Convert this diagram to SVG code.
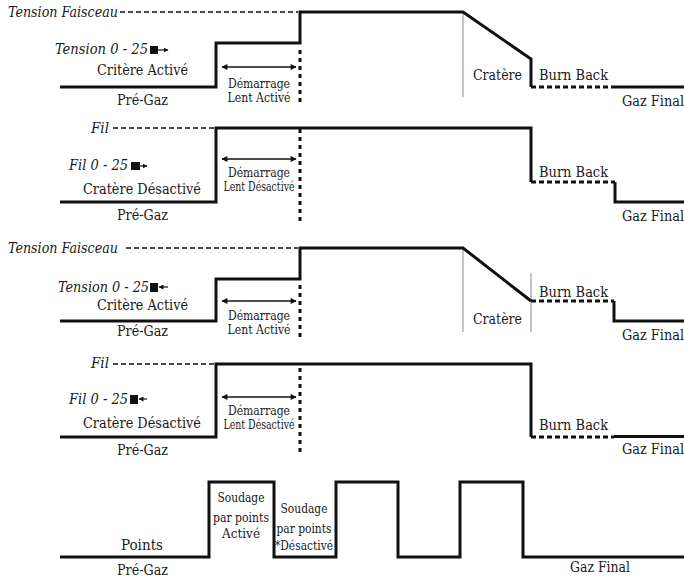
<svg xmlns="http://www.w3.org/2000/svg" width="684" height="578" viewBox="0 0 684 578">
<style>
text{font-family:"DejaVu Serif Condensed","DejaVu Serif","Liberation Serif",serif;fill:#1a1a1a}
.l{font-size:14.5px}
.s{font-size:12.5px}
.i{font-size:14.5px;font-style:italic}
.w{fill:none;stroke:#111;stroke-width:3;stroke-linejoin:miter;stroke-linecap:butt}
.bb{fill:none;stroke:#111;stroke-width:3;stroke-dasharray:5,3}
.ref{fill:none;stroke:#111;stroke-width:1.6;stroke-dasharray:5,3}
.dot{fill:none;stroke:#111;stroke-width:3;stroke-dasharray:4,4}
.g{stroke:#a0a0a0;stroke-width:1.2}
.da{stroke:#111;stroke-width:1.3;marker-start:url(#ah);marker-end:url(#ah)}
.sa{stroke:#111;stroke-width:1.2}
.box{fill:#111}
</style>
<defs>
<marker id="ah" viewBox="0 0 10 10" refX="9" refY="5" markerWidth="8" markerHeight="6" markerUnits="userSpaceOnUse" orient="auto-start-reverse"><path d="M0,0 L10,5 L0,10 z" fill="#111"/></marker>
<marker id="sh" viewBox="0 0 10 10" refX="9" refY="5" markerWidth="5" markerHeight="5" markerUnits="userSpaceOnUse" orient="auto"><path d="M0,0 L10,5 L0,10 z" fill="#111"/></marker>
</defs>

<g id="panel1">
<text class="i" x="8" y="17" textLength="110" lengthAdjust="spacingAndGlyphs">Tension Faisceau</text>
<line class="ref" x1="120" y1="12" x2="298" y2="12"/>
<line class="g" x1="463" y1="12" x2="463" y2="97"/>
<path class="w" d="M60,87 H216 V43 H300 V12 H463 L531,59 V87"/>
<line class="bb" x1="531" y1="87" x2="615" y2="87"/>
<path class="w" d="M615,87 H684"/>
<line class="dot" x1="300" y1="50" x2="300" y2="106"/>
<line class="da" x1="222" y1="67" x2="296" y2="67"/>
<text class="i" x="55" y="54" textLength="93" lengthAdjust="spacingAndGlyphs">Tension 0 - 25</text>
<rect class="box" x="150" y="46" width="8" height="8"/>
<line class="sa" x1="158" y1="50" x2="168" y2="50" marker-end="url(#sh)"/>
<text class="l" x="97" y="75" textLength="91" lengthAdjust="spacingAndGlyphs">Critère Activé</text>
<text class="l" x="117" y="105" textLength="51" lengthAdjust="spacingAndGlyphs">Pré-Gaz</text>
<text class="s" x="259" y="88" text-anchor="middle" textLength="62" lengthAdjust="spacingAndGlyphs">Démarrage</text>
<text class="s" x="259" y="102" text-anchor="middle" textLength="63" lengthAdjust="spacingAndGlyphs">Lent Activé</text>
<text class="l" x="473" y="80" textLength="49" lengthAdjust="spacingAndGlyphs">Cratère</text>
<text class="l" x="539" y="80" textLength="69" lengthAdjust="spacingAndGlyphs">Burn Back</text>
<text class="l" x="622" y="106" textLength="62" lengthAdjust="spacingAndGlyphs">Gaz Final</text>
</g>

<g id="panel2">
<text class="i" x="91" y="133" textLength="18" lengthAdjust="spacingAndGlyphs">Fil</text>
<line class="ref" x1="113" y1="128" x2="215" y2="128"/>
<path class="w" d="M60,202 H216 V128 H531 V182"/>
<line class="bb" x1="531" y1="182" x2="615" y2="182"/>
<path class="w" d="M615,182 V202 H684"/>
<line class="dot" x1="300" y1="129" x2="300" y2="224"/>
<line class="da" x1="222" y1="159" x2="296" y2="159"/>
<text class="i" x="69" y="170" textLength="59" lengthAdjust="spacingAndGlyphs">Fil 0 - 25</text>
<rect class="box" x="131" y="162" width="9" height="8"/>
<line class="sa" x1="140" y1="166" x2="147" y2="166" marker-end="url(#sh)"/>
<text class="l" x="83" y="194" textLength="118" lengthAdjust="spacingAndGlyphs">Cratère Désactivé</text>
<text class="l" x="117" y="220" textLength="51" lengthAdjust="spacingAndGlyphs">Pré-Gaz</text>
<text class="s" x="259" y="177" text-anchor="middle" textLength="62" lengthAdjust="spacingAndGlyphs">Démarrage</text>
<text class="s" x="259" y="191" text-anchor="middle" textLength="71" lengthAdjust="spacingAndGlyphs">Lent Désactivé</text>
<text class="l" x="539" y="177" textLength="69" lengthAdjust="spacingAndGlyphs">Burn Back</text>
<text class="l" x="622" y="221" textLength="62" lengthAdjust="spacingAndGlyphs">Gaz Final</text>
</g>

<g id="panel3">
<text class="i" x="8" y="253" textLength="110" lengthAdjust="spacingAndGlyphs">Tension Faisceau</text>
<line class="ref" x1="126" y1="248" x2="298" y2="248"/>
<line class="g" x1="463" y1="248" x2="463" y2="332"/>
<line class="g" x1="531" y1="273" x2="531" y2="332"/>
<path class="w" d="M60,321 H216 V279 H300 V248 H463 L531,301"/>
<line class="bb" x1="531" y1="301" x2="614" y2="301"/>
<path class="w" d="M614,301 V321 H684"/>
<line class="dot" x1="300" y1="285" x2="300" y2="341"/>
<line class="da" x1="222" y1="301" x2="296" y2="301"/>
<text class="i" x="58" y="292" textLength="91" lengthAdjust="spacingAndGlyphs">Tension 0 - 25</text>
<rect class="box" x="150" y="283" width="8" height="9"/>
<line class="sa" x1="168" y1="287" x2="159" y2="287" marker-end="url(#sh)"/>
<text class="l" x="97" y="310" textLength="91" lengthAdjust="spacingAndGlyphs">Critère Activé</text>
<text class="l" x="117" y="336" textLength="51" lengthAdjust="spacingAndGlyphs">Pré-Gaz</text>
<text class="s" x="259" y="320" text-anchor="middle" textLength="62" lengthAdjust="spacingAndGlyphs">Démarrage</text>
<text class="s" x="259" y="334" text-anchor="middle" textLength="63" lengthAdjust="spacingAndGlyphs">Lent Activé</text>
<text class="l" x="473" y="324" textLength="49" lengthAdjust="spacingAndGlyphs">Cratère</text>
<text class="l" x="539" y="297" textLength="69" lengthAdjust="spacingAndGlyphs">Burn Back</text>
<text class="l" x="622" y="340" textLength="62" lengthAdjust="spacingAndGlyphs">Gaz Final</text>
</g>

<g id="panel4">
<text class="i" x="91" y="368" textLength="18" lengthAdjust="spacingAndGlyphs">Fil</text>
<line class="ref" x1="113" y1="364" x2="215" y2="364"/>
<path class="w" d="M60,437 H216 V364 H531 V437"/>
<line class="bb" x1="531" y1="437" x2="614" y2="437"/>
<path class="w" d="M614,436.5 H684"/>
<line class="dot" x1="300" y1="368" x2="300" y2="455"/>
<line class="da" x1="222" y1="397" x2="296" y2="397"/>
<text class="i" x="69" y="404" textLength="59" lengthAdjust="spacingAndGlyphs">Fil 0 - 25</text>
<rect class="box" x="130" y="395" width="8" height="9"/>
<line class="sa" x1="147" y1="399" x2="139" y2="399" marker-end="url(#sh)"/>
<text class="l" x="83" y="428" textLength="118" lengthAdjust="spacingAndGlyphs">Cratère Désactivé</text>
<text class="l" x="117" y="455" textLength="51" lengthAdjust="spacingAndGlyphs">Pré-Gaz</text>
<text class="s" x="259" y="415" text-anchor="middle" textLength="62" lengthAdjust="spacingAndGlyphs">Démarrage</text>
<text class="s" x="259" y="429" text-anchor="middle" textLength="71" lengthAdjust="spacingAndGlyphs">Lent Désactivé</text>
<text class="l" x="539" y="430" textLength="69" lengthAdjust="spacingAndGlyphs">Burn Back</text>
<text class="l" x="622" y="454" textLength="62" lengthAdjust="spacingAndGlyphs">Gaz Final</text>
</g>

<g id="panel5">
<path class="w" d="M60,557 H209 V482 H274 V557 H336 V482 H398 V557 H460 V482 H523 V557 H684"/>
<text class="l" x="121" y="550" textLength="42" lengthAdjust="spacingAndGlyphs">Points</text>
<text class="l" x="117" y="575" textLength="51" lengthAdjust="spacingAndGlyphs">Pré-Gaz</text>
<text class="s" x="241" y="502" text-anchor="middle" textLength="47" lengthAdjust="spacingAndGlyphs">Soudage</text>
<text class="s" x="241" y="522" text-anchor="middle" textLength="56" lengthAdjust="spacingAndGlyphs">par points</text>
<text class="s" x="241" y="538" text-anchor="middle" textLength="38" lengthAdjust="spacingAndGlyphs">Activé</text>
<text class="s" x="304" y="513" text-anchor="middle" textLength="47" lengthAdjust="spacingAndGlyphs">Soudage</text>
<text class="s" x="304" y="533" text-anchor="middle" textLength="55" lengthAdjust="spacingAndGlyphs">par points</text>
<text class="s" x="304" y="550" text-anchor="middle" textLength="58" lengthAdjust="spacingAndGlyphs">*Désactivé</text>
<text class="l" x="570" y="572" textLength="60" lengthAdjust="spacingAndGlyphs">Gaz Final</text>
</g>
</svg>
